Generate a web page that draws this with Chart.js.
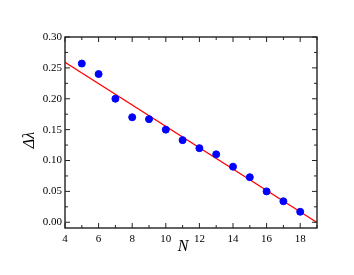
<!DOCTYPE html>
<html>
<head>
<meta charset="utf-8">
<script src="https://cdn.jsdelivr.net/npm/chart.js@4"></script>
<style>
  html, body { margin: 0; padding: 0; background: #fff; }
  #wrap { width: 354px; height: 275px; }
</style>
</head>
<body>
<div id="wrap"><canvas id="chart" width="354" height="275"></canvas></div>
<script>
// data
const nValues = [5, 6, 7, 8, 9, 10, 11, 12, 13, 14, 15, 16, 17, 18];
const deltaLambda = [0.257, 0.240, 0.200, 0.170, 0.167, 0.150, 0.133, 0.120, 0.110, 0.090, 0.073, 0.050, 0.034, 0.017];
const fitX = [4, 19];
const fitY = [0.259, -0.0005];
const xTicks = [4, 6, 8, 10, 12, 14, 16, 18];
const yTicks = [0, 0.05, 0.10, 0.15, 0.20, 0.25, 0.30];
const xMinor = [5, 7, 9, 11, 13, 15, 17, 19];
const yMinor = [0.025, 0.075, 0.125, 0.175, 0.225, 0.275];

const serif = 'Liberation Serif';

// frame + inward ticks on all four sides, axis titles
const framePlugin = {
  id: 'frame',
  afterDraw(chart) {
    const { ctx, chartArea: a, scales } = chart;
    const xs = scales.x, ys = scales.y;
    ctx.save();
    ctx.strokeStyle = '#222';
    ctx.lineWidth = 1.4;
    ctx.strokeRect(a.left, a.top, a.right - a.left, a.bottom - a.top);

    function tickX(v, len) {
      const px = xs.getPixelForValue(v);
      ctx.beginPath();
      ctx.moveTo(px, a.bottom); ctx.lineTo(px, a.bottom - len);
      ctx.moveTo(px, a.top); ctx.lineTo(px, a.top + len);
      ctx.stroke();
    }
    function tickY(v, len) {
      const py = ys.getPixelForValue(v);
      ctx.beginPath();
      ctx.moveTo(a.left, py); ctx.lineTo(a.left + len, py);
      ctx.moveTo(a.right, py); ctx.lineTo(a.right - len, py);
      ctx.stroke();
    }
    ctx.lineWidth = 1;
    xTicks.forEach(v => tickX(v, 5));
    xMinor.forEach(v => tickX(v, 3));
    yTicks.forEach(v => tickY(v, 5));
    yMinor.forEach(v => tickY(v, 3));

    ctx.fillStyle = '#000';
    ctx.font = 'italic 16px "Liberation Serif"';
    ctx.textAlign = 'center';
    ctx.textBaseline = 'middle';
    ctx.fillText('N', 183, 247);
    ctx.translate(30, 140);
    ctx.rotate(-Math.PI / 2);
    ctx.fillText('Δλ', 0, 0);
    ctx.restore();
  }
};

new Chart(document.getElementById('chart'), {
  type: 'scatter',
  data: {
    datasets: [
      {
        label: 'data',
        data: nValues.map((n, i) => ({ x: n, y: deltaLambda[i] })),
        backgroundColor: '#0000ff',
        borderColor: '#0000ff',
        pointRadius: 3.5,
        order: 1
      },
      {
        type: 'line',
        label: 'fit',
        data: fitX.map((x, i) => ({ x: x, y: fitY[i] })),
        borderColor: '#ff0000',
        borderWidth: 1.3,
        pointRadius: 0,
        fill: false,
        order: 2
      }
    ]
  },
  options: {
    responsive: false,
    animation: false,
    events: [],
    layout: { padding: { left: 0, right: 37, top: 37, bottom: 0 } },
    plugins: { legend: { display: false }, tooltip: { enabled: false } },
    scales: {
      x: {
        type: 'linear',
        min: 4, max: 19,
        grid: { display: false, drawTicks: false },
        border: { display: false },
        afterBuildTicks: s => { s.ticks = xTicks.map(v => ({ value: v })); },
        afterFit: s => { s.height = 47; },
        ticks: {
          padding: 5,
          color: '#000',
          font: { family: serif, size: 11 },
          maxRotation: 0,
          callback: v => String(v)
        }
      },
      y: {
        type: 'linear',
        min: -0.0093, max: 0.30,
        grid: { display: false, drawTicks: false },
        border: { display: false },
        afterBuildTicks: s => { s.ticks = yTicks.map(v => ({ value: v })); },
        afterFit: s => { s.width = 65; },
        ticks: {
          padding: 3,
          color: '#000',
          font: { family: serif, size: 11 },
          callback: v => Number(v).toFixed(2)
        }
      }
    }
  },
  plugins: [framePlugin]
});
</script>
</body>
</html>
